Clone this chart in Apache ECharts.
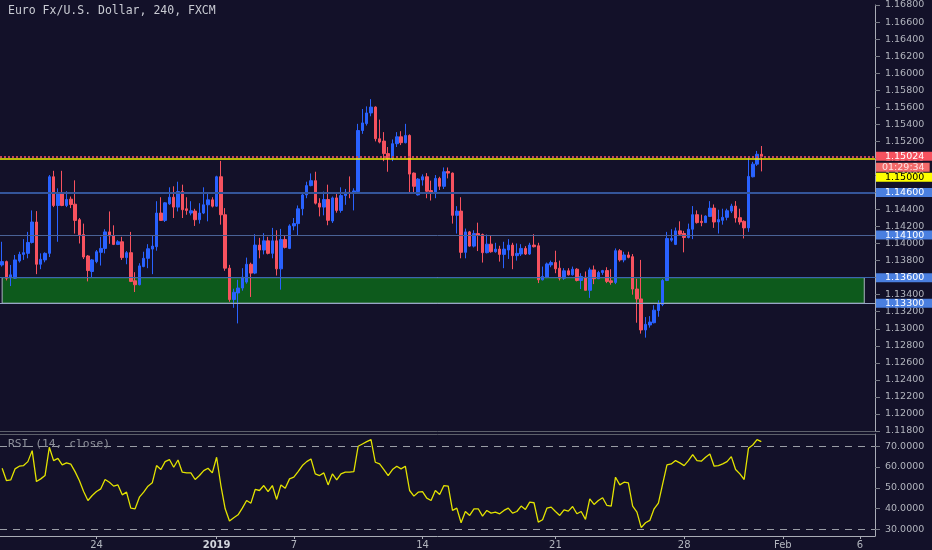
<!DOCTYPE html>
<html><head><meta charset="utf-8">
<script src="https://cdn.jsdelivr.net/npm/echarts@6/dist/echarts.min.js"></script>
<style>html,body{margin:0;padding:0;background:#131129;}#c{width:932px;height:550px;}</style>
</head><body><div id="c"></div>
<script>
// ---- data ----
const SLOT_COUNT = 204; // candle slots incl. empty future space
const dateTicks = ['24', '2019', '7', '14', '21', '28', 'Feb', '6'];
const dateTickIdx = [22, 50, 68, 98, 129, 159, 182, 200];
const priceTicks = [1.118,1.120,1.122,1.124,1.126,1.128,1.130,1.132,1.134,1.136,1.138,1.140,1.142,1.144,1.146,1.148,1.150,1.152,1.154,1.156,1.158,1.160,1.162,1.164,1.166,1.168];
const rsiTicks = [30, 40, 50, 60, 70];
const rsiBands = [70, 30];
// [open, close, low, high]
const ohlc = [
[1.13749,1.13788,1.13730,1.14021],[1.13788,1.13594,1.13567,1.13800],[1.13602,1.13633,1.13501,1.13749],[1.13594,1.13808,1.13587,1.13866],
[1.13796,1.13873,1.13777,1.13904],[1.13873,1.13893,1.13808,1.14052],[1.13885,1.14013,1.13827,1.14137],[1.14013,1.14253,1.14001,1.14389],
[1.14253,1.13757,1.13641,1.14381],[1.13757,1.13815,1.13699,1.13885],[1.13808,1.13885,1.13780,1.13897],[1.13885,1.14784,1.13842,1.14804],
[1.14784,1.14447,1.14428,1.14854],[1.14447,1.14583,1.14021,1.14648],[1.14583,1.14447,1.14439,1.14854],[1.14447,1.14517,1.14428,1.14614],
[1.14521,1.14459,1.14416,1.14552],[1.14462,1.14272,1.14117,1.14742],[1.14280,1.14098,1.14001,1.14300],[1.14106,1.13842,1.13819,1.14234],
[1.13854,1.13683,1.13556,1.13866],[1.13672,1.13808,1.13602,1.13819],[1.13788,1.13904,1.13769,1.13924],[1.13897,1.13943,1.13742,1.14079],
[1.13943,1.14137,1.13885,1.14168],[1.14137,1.14090,1.13997,1.14377],[1.14090,1.13990,1.13982,1.14214],[1.13990,1.14021,1.13982,1.14040],
[1.14021,1.13835,1.13808,1.14079],[1.13835,1.13893,1.13757,1.13912],[1.13893,1.13556,1.13548,1.14137],[1.13563,1.13517,1.13431,1.13664],
[1.13517,1.13738,1.13509,1.13769],[1.13730,1.13827,1.13722,1.13904],[1.13827,1.13939,1.13711,1.13993],[1.13935,1.13970,1.13641,1.14098],
[1.13963,1.14358,1.13916,1.14497],[1.14358,1.14272,1.14265,1.14544],[1.14272,1.14478,1.14253,1.14486],[1.14466,1.14544,1.14455,1.14660],
[1.14544,1.14428,1.14300,1.14672],[1.14428,1.14610,1.14377,1.14726],[1.14610,1.14397,1.14300,1.14691],[1.14408,1.14389,1.14338,1.14544],
[1.14358,1.14385,1.14331,1.14497],[1.14381,1.14280,1.14207,1.14408],[1.14280,1.14358,1.14234,1.14474],[1.14358,1.14455,1.14346,1.14660],
[1.14455,1.14513,1.14261,1.14590],[1.14513,1.14439,1.14424,1.14544],[1.14439,1.14784,1.14431,1.14796],[1.14784,1.14338,1.14222,1.14970],
[1.14338,1.13711,1.13680,1.14416],[1.13711,1.13343,1.13316,1.13750],[1.13343,1.13428,1.13246,1.13470],[1.13420,1.13478,1.13063,1.13575],
[1.13478,1.13606,1.13447,1.13711],[1.13548,1.13757,1.13529,1.13835],[1.13757,1.13653,1.13373,1.13776],[1.13653,1.13982,1.13641,1.14110],
[1.13982,1.13924,1.13827,1.14067],[1.13924,1.14032,1.13873,1.14122],[1.14032,1.13885,1.13873,1.14079],[1.13885,1.14032,1.13827,1.14184],
[1.14032,1.13703,1.13625,1.14156],[1.13703,1.14048,1.13459,1.14172],[1.14048,1.13955,1.13943,1.14098],[1.13943,1.14207,1.13935,1.14226],
[1.14207,1.14234,1.14156,1.14300],[1.14234,1.14408,1.14091,1.14447],[1.14408,1.14571,1.14331,1.14595],[1.14571,1.14680,1.14532,1.14726],
[1.14680,1.14738,1.14672,1.14823],[1.14738,1.14474,1.14459,1.14843],[1.14474,1.14428,1.14319,1.14532],[1.14428,1.14517,1.14331,1.14610],
[1.14517,1.14273,1.14215,1.14691],[1.14265,1.14536,1.14242,1.14552],[1.14536,1.14389,1.14362,1.14591],[1.14389,1.14563,1.14362,1.14660],
[1.14563,1.14602,1.14455,1.14641],[1.14602,1.14591,1.14532,1.14788],[1.14595,1.14618,1.14389,1.14649],[1.14610,1.15327,1.14602,1.15405],
[1.15327,1.15416,1.15288,1.15579],[1.15408,1.15533,1.15385,1.15610],[1.15533,1.15602,1.15494,1.15695],[1.15602,1.15230,1.15199,1.15610],
[1.15230,1.15191,1.15176,1.15455],[1.15203,1.15056,1.14967,1.15308],[1.15056,1.14998,1.14843,1.15133],[1.14998,1.15172,1.14967,1.15222],
[1.15172,1.15253,1.15133,1.15308],[1.15253,1.15184,1.15156,1.15319],[1.15184,1.15269,1.15176,1.15405],[1.15269,1.14815,1.14583,1.15281],
[1.14827,1.14672,1.14583,1.14835],[1.14571,1.14757,1.14563,1.14769],[1.14746,1.14784,1.14680,1.14812],[1.14784,1.14614,1.14532,1.14827],
[1.14622,1.14595,1.14505,1.14738],[1.14595,1.14765,1.14532,1.14804],[1.14765,1.14672,1.14629,1.14784],[1.14672,1.14843,1.14641,1.14893],
[1.14846,1.14827,1.14765,1.14893],[1.14827,1.14331,1.14234,1.14834],[1.14331,1.14381,1.14117,1.14439],[1.14381,1.13897,1.13827,1.14544],
[1.13897,1.14137,1.13827,1.14176],[1.14137,1.13970,1.13963,1.14148],[1.13970,1.14117,1.13955,1.14156],[1.14117,1.14098,1.13912,1.14245],
[1.14106,1.13893,1.13777,1.14117],[1.13893,1.13993,1.13885,1.14106],[1.13993,1.13904,1.13893,1.14090],[1.13904,1.13935,1.13893,1.14009],
[1.13935,1.13873,1.13788,1.13974],[1.13873,1.13935,1.13711,1.14021],[1.13924,1.13982,1.13819,1.14052],[1.13982,1.13858,1.13699,1.14009],
[1.13858,1.13885,1.13800,1.14001],[1.13877,1.13943,1.13854,1.13993],[1.13943,1.13877,1.13866,1.13970],[1.13877,1.13982,1.13866,1.14009],
[1.13982,1.13963,1.13955,1.14110],[1.13974,1.13575,1.13536,1.14009],[1.13575,1.13614,1.13567,1.13730],[1.13602,1.13761,1.13594,1.13777],
[1.13749,1.13777,1.13722,1.13800],[1.13777,1.13703,1.13652,1.13916],[1.13711,1.13594,1.13567,1.13800],[1.13594,1.13680,1.13575,1.13711],
[1.13680,1.13633,1.13625,1.13711],[1.13633,1.13699,1.13625,1.13730],[1.13699,1.13567,1.13556,1.13711],[1.13567,1.13614,1.13466,1.13652],
[1.13606,1.13451,1.13451,1.13672],[1.13451,1.13691,1.13362,1.13718],[1.13691,1.13587,1.13524,1.13742],[1.13587,1.13660,1.13583,1.13680],
[1.13660,1.13683,1.13633,1.13691],[1.13683,1.13556,1.13536,1.13722],[1.13563,1.13544,1.13517,1.13699],[1.13544,1.13916,1.13524,1.13943],
[1.13916,1.13808,1.13788,1.13935],[1.13808,1.13866,1.13780,1.13904],[1.13866,1.13838,1.13827,1.13904],[1.13846,1.13466,1.13400,1.13877],
[1.13466,1.13350,1.13071,1.13587],[1.13350,1.12986,1.12943,1.13808],[1.12986,1.13052,1.12896,1.13137],[1.13044,1.13079,1.13013,1.13148],
[1.13071,1.13218,1.13063,1.13276],[1.13214,1.13292,1.13141,1.13334],[1.13284,1.13567,1.13265,1.13583],[1.13567,1.14059,1.13559,1.14137],
[1.14040,1.14060,1.14021,1.14168],[1.13990,1.14149,1.13982,1.14188],[1.14149,1.14110,1.14091,1.14261],[1.14118,1.14071,1.13897,1.14149],
[1.14071,1.14168,1.14060,1.14234],[1.14168,1.14339,1.14052,1.14440],[1.14339,1.14246,1.14234,1.14389],[1.14261,1.14246,1.14203,1.14339],
[1.14246,1.14323,1.14242,1.14331],[1.14319,1.14416,1.14312,1.14498],[1.14416,1.14253,1.14184,1.14459],[1.14253,1.14281,1.14118,1.14397],
[1.14273,1.14308,1.14222,1.14409],[1.14308,1.14385,1.14273,1.14409],[1.14381,1.14440,1.14358,1.14467],[1.14440,1.14300,1.14246,1.14498],
[1.14304,1.14253,1.14222,1.14409],[1.14261,1.14184,1.14060,1.14273],[1.14184,1.14788,1.14137,1.15009],[1.14784,1.14932,1.14777,1.14959],
[1.14932,1.15048,1.14912,1.15087],[1.15048,1.15024,1.14847,1.15145]
];
const rsi = [
59.4,53.5,53.8,59.1,60.4,60.7,62.6,67.9,53.0,54.3,
55.9,69.5,63.1,64.2,61.0,62.0,61.4,57.8,53.5,48.2,
43.9,46.3,48.2,49.5,54.0,52.7,50.8,51.4,46.6,47.9,
40.2,39.9,45.5,47.9,50.8,52.4,60.7,58.8,62.6,63.6,
59.9,63.4,57.5,57.2,57.2,54.0,55.9,58.3,59.4,57.2,
64.7,51.1,39.9,34.0,35.6,37.0,40.2,43.9,42.6,49.2,
48.7,51.1,48.2,51.1,44.4,51.4,49.8,54.3,55.1,57.8,
60.7,62.6,63.9,56.7,55.9,57.2,51.4,56.7,53.8,56.7,
57.5,57.5,57.8,70.0,71.1,72.2,73.2,62.3,61.5,58.8,
55.9,58.8,60.4,59.1,60.4,48.7,46.0,47.9,48.2,45.0,
43.9,48.7,46.8,51.1,50.8,39.1,40.2,33.2,38.6,36.7,
39.9,39.9,36.4,39.1,37.8,38.3,37.5,39.1,40.2,37.8,
38.6,41.2,39.6,43.1,42.8,33.5,34.6,40.2,40.7,38.6,
36.7,39.4,38.8,41.0,37.5,38.6,34.8,44.7,42.0,43.9,
45.2,41.5,41.2,55.1,51.4,52.7,52.4,41.2,38.3,30.8,
33.2,34.3,39.9,42.6,51.9,61.0,61.5,63.1,62.0,60.7,
63.1,66.0,63.1,62.8,64.7,66.3,60.4,60.7,61.5,62.6,
65.0,58.8,56.7,54.0,69.0,70.6,73.2,72.2
];
const lastPrice = 1.15024;
const countdown = '01:29:34';
const alertLevel = 1.15;
const levelA = 1.146;
const levelB = 1.141;
const zoneTop = 1.136;
const zoneBottom = 1.133;
const zoneEndIdx = 201;

// ---- chart ----
const cats = Array.from({length: SLOT_COUNT}, (_, i) => String(i));
const tickMap = {};
dateTickIdx.forEach((idx, k) => { tickMap[idx] = dateTicks[k]; });
const emptyLine = ohlc.map(() => null);

const FONT = 'DejaVu Sans';
const MONO = 'DejaVu Sans Mono';
const axisTxt = '#b2b5be';

function tag(bg, fg, text, offY, pad) {
  return {
    show: true, position: 'end', distance: 1,
    formatter: text, backgroundColor: bg, color: fg, opacity: 1,
    fontFamily: FONT, fontSize: 9.5, lineHeight: 9,
    padding: pad || [0, 9, 0, 9], offset: [0, offY || 0]
  };
}

// one helper series per horizontal level so each line is placed independently
function levelSeries(value, lineStyle, label, z) {
  return {
    type: 'line', xAxisIndex: 0, yAxisIndex: 0, data: emptyLine, z: z || 5,
    silent: true, clip: false, symbol: 'none', lineStyle: { opacity: 0 },
    markLine: { silent: true, symbol: ['none', 'none'], animation: false, precision: 6,
      lineStyle: lineStyle, label: label,
      data: [{ yAxis: value }] }
  };
}

const chart = echarts.init(document.getElementById('c'));
chart.setOption({
  animation: false,
  backgroundColor: '#131129',
  title: [
    { text: 'Euro Fx/U.S. Dollar, 240, FXCM', left: 8, top: 5, padding: 0,
      textStyle: { fontFamily: MONO, fontSize: 11.5, fontWeight: 'normal', color: '#c9cbd3' } },
    { text: 'RSI (14, close)', left: 8, top: 439, padding: 0,
      textStyle: { fontFamily: MONO, fontSize: 11.3, fontWeight: 'normal', color: '#8e919b' } }
  ],
  grid: [
    { left: -1, right: 57, top: 1, bottom: 119 },
    { left: -1, right: 57, top: 434, bottom: 14 }
  ],
  xAxis: [
    { type: 'category', gridIndex: 0, data: cats, boundaryGap: true,
      axisLine: { show: true, lineStyle: { color: '#5d606b' } },
      axisTick: { show: false }, axisLabel: { show: false }, splitLine: { show: false } },
    { type: 'category', gridIndex: 1, data: cats, boundaryGap: true,
      axisLine: { show: true, lineStyle: { color: '#a9acb6' } },
      axisTick: { show: true, alignWithLabel: true, length: 3, lineStyle: { color: '#a9acb6' },
        interval: (i) => tickMap[i] !== undefined },
      axisLabel: { show: true, margin: 4, fontFamily: FONT, fontSize: 10, color: axisTxt,
        interval: (i) => tickMap[i] !== undefined,
        formatter: (v, i) => tickMap[i] === '2019' ? '{b|2019}' : (tickMap[i] || ''),
        rich: { b: { fontFamily: FONT, fontSize: 10, fontWeight: 'bold', color: '#d1d4dc' } } },
      splitLine: { show: false } },
    { type: 'category', gridIndex: 1, data: cats, position: 'top',
      axisLine: { show: true, lineStyle: { color: '#5d606b' } },
      axisTick: { show: false }, axisLabel: { show: false } }
  ],
  yAxis: [
    { type: 'value', gridIndex: 0, position: 'right', min: 1.118, max: 1.168, interval: 0.002,
      axisLine: { show: true, lineStyle: { color: '#a9acb6' } },
      axisTick: { show: true, length: 5, lineStyle: { color: '#787b86' }, customValues: priceTicks },
      axisLabel: { margin: 10, fontFamily: FONT, fontSize: 9.5, color: axisTxt,
        customValues: priceTicks, formatter: (v) => v.toFixed(5) },
      splitLine: { show: false } },
    { type: 'value', gridIndex: 1, position: 'right', min: 26.8, max: 75.9,
      axisLine: { show: true, lineStyle: { color: '#a9acb6' } },
      axisTick: { show: true, length: 5, lineStyle: { color: '#787b86' }, customValues: rsiTicks },
      axisLabel: { margin: 10, fontFamily: FONT, fontSize: 9.5, color: axisTxt,
        customValues: rsiTicks, formatter: (v) => v.toFixed(4) },
      splitLine: { show: false } }
  ],
  series: [
    { type: 'candlestick', xAxisIndex: 0, yAxisIndex: 0, data: ohlc, barWidth: 3, z: 2,
      itemStyle: { color: '#2962ff', color0: '#f7525f', borderColor: '#2962ff', borderColor0: '#f7525f', borderWidth: 1 } },
    { type: 'line', xAxisIndex: 0, yAxisIndex: 0, data: emptyLine, z: 4, silent: true, clip: false,
      symbol: 'none', lineStyle: { opacity: 0 },
      markArea: { silent: true,
        itemStyle: { color: 'rgba(5,200,10,0.4)', borderColor: '#aab2c0', borderWidth: 1 },
        data: [[{ xAxis: 0, yAxis: zoneTop }, { xAxis: zoneEndIdx, yAxis: zoneBottom }]] } },
    levelSeries(levelB, { color: '#4a6296', width: 1, type: 'solid' }, tag('#4a7fe0', '#ffffff', levelB.toFixed(5))),
    levelSeries(zoneTop, { color: '#3a67b0', width: 1, type: 'solid' }, tag('#4a7fe0', '#ffffff', zoneTop.toFixed(5))),
    levelSeries(zoneBottom, { color: '#97a6c6', width: 1, type: 'solid' }, tag('#4a7fe0', '#ffffff', zoneBottom.toFixed(5))),
    levelSeries(levelA, { color: '#34559a', width: 2, type: 'solid' }, tag('#4a7fe0', '#ffffff', levelA.toFixed(5))),
    levelSeries(alertLevel, { color: '#f2f200', width: 1.5, type: 'solid' }, tag('#ffff00', '#000000', alertLevel.toFixed(5), 19), 6),
    levelSeries(lastPrice, { color: '#c8455a', width: 2, type: [2, 2] }, tag('#f7525f', '#ffffff', lastPrice.toFixed(5)), 7),
    levelSeries(lastPrice, { color: 'rgba(0,0,0,0)', width: 1 }, tag('#f26a6a', '#ffe3e3', countdown, 11, [0, 5, 0, 6]), 8),
    { type: 'line', xAxisIndex: 1, yAxisIndex: 1, data: rsi, symbol: 'none', z: 3,
      lineStyle: { color: '#e3e300', width: 1.3 },
      markLine: { silent: true, symbol: ['none', 'none'], label: { show: false },
        lineStyle: { color: '#9a9da6', width: 1, type: [7, 6] },
        data: rsiBands.map(v => ({ yAxis: v })) } }
  ]
});
</script>
</body></html>
